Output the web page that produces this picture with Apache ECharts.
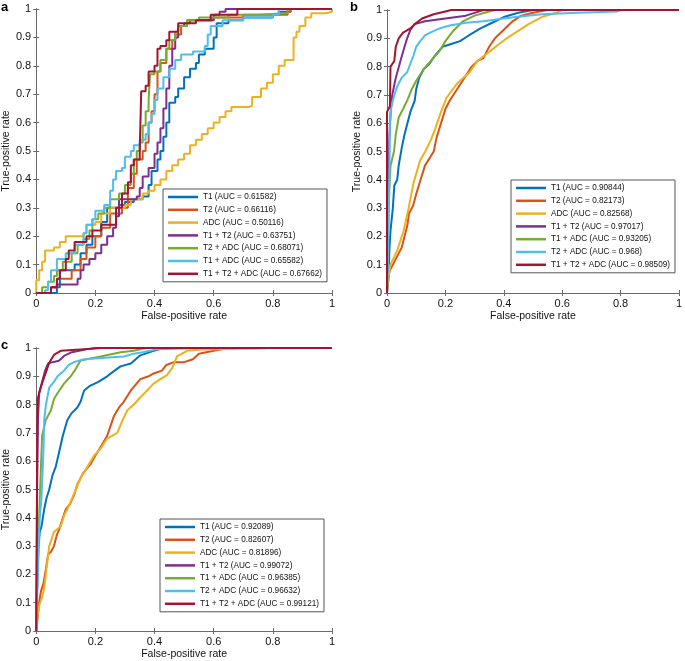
<!DOCTYPE html>
<html lang="en">
<head>
<meta charset="UTF-8">
<title>ROC curves</title>
<script src="https://cdn.jsdelivr.net/npm/echarts@6/dist/echarts.min.js"></script>
<style>
    html, body {margin: 0; padding: 0; background: #fff;}
    #main {width: 685px; height: 661px;}
</style>
</head>
<body>
<div id="main"></div>
<script>
    /* legend labels */
    var namesA = ['T1', 'T2', 'ADC', 'T1 + T2', 'T2 + ADC', 'T1 + ADC', 'T1 + T2 + ADC'];
    var namesBC = ['T1', 'T2', 'ADC', 'T1 + T2', 'T1 + ADC', 'T2 + ADC', 'T1 + T2 + ADC'];
    var aucA = ['0.61582', '0.66116', '0.50116', '0.63751', '0.68071', '0.65582', '0.67662'];
    var aucB = ['0.90844', '0.82173', '0.82568', '0.97017', '0.93205', '0.968', '0.98509'];
    var aucC = ['0.92089', '0.82607', '0.81896', '0.99072', '0.96385', '0.96632', '0.99121'];
    var xTicks = [0, 0.2, 0.4, 0.6, 0.8, 1];
    var yTicks = [0, 0.1, 0.2, 0.3, 0.4, 0.5, 0.6, 0.7, 0.8, 0.9, 1];

    /* panel a : [fpr, tpr] (step curves) */
    var aT1 = [[0,0],[0.07,0.02],[0.08,0.08],[0.13,0.1],[0.15,0.14],[0.17,0.17],[0.19,0.2],[0.22,0.25],[0.24,0.3],[0.28,0.31],[0.3,0.32],[0.33,0.33],[0.36,0.34],[0.38,0.38],[0.39,0.43],[0.41,0.47],[0.42,0.5],[0.43,0.55],[0.44,0.6],[0.45,0.67],[0.47,0.69],[0.48,0.72],[0.5,0.76],[0.52,0.79],[0.54,0.81],[0.55,0.84],[0.57,0.86],[0.6,0.9],[0.61,0.95],[0.65,0.96],[0.7,0.97],[0.8,0.98],[0.82,0.99],[0.86,1],[1,1]];
    var aT2 = [[0,0],[0.05,0.02],[0.07,0.05],[0.12,0.08],[0.15,0.12],[0.17,0.16],[0.2,0.2],[0.22,0.23],[0.25,0.28],[0.29,0.3],[0.31,0.37],[0.33,0.42],[0.34,0.47],[0.36,0.5],[0.37,0.53],[0.38,0.6],[0.39,0.64],[0.4,0.7],[0.41,0.78],[0.42,0.81],[0.44,0.86],[0.46,0.89],[0.47,0.91],[0.49,0.94],[0.51,0.96],[0.6,0.97],[0.7,0.98],[0.85,0.99],[0.86,1],[1,1]];
    var aADC = [[0,0],[0,0.045],[0.01,0.08],[0.02,0.11],[0.03,0.15],[0.06,0.16],[0.08,0.18],[0.1,0.2],[0.16,0.21],[0.17,0.24],[0.2,0.25],[0.22,0.28],[0.25,0.3],[0.3,0.31],[0.32,0.33],[0.36,0.35],[0.38,0.36],[0.4,0.38],[0.42,0.4],[0.44,0.43],[0.46,0.45],[0.48,0.47],[0.5,0.49],[0.52,0.52],[0.54,0.54],[0.56,0.56],[0.58,0.58],[0.6,0.6],[0.62,0.62],[0.64,0.64],[0.66,0.655],[0.72,0.66],[0.73,0.69],[0.76,0.72],[0.78,0.74],[0.8,0.77],[0.82,0.8],[0.84,0.82],[0.87,0.83],[0.87,0.9],[0.88,0.92],[0.89,0.94],[0.91,0.97],[0.93,0.985],[0.98,0.99],[1,1]];
    var aT1T2 = [[0,0],[0.05,0.02],[0.07,0.03],[0.14,0.05],[0.15,0.08],[0.16,0.1],[0.18,0.12],[0.2,0.14],[0.22,0.17],[0.24,0.2],[0.26,0.23],[0.27,0.27],[0.28,0.33],[0.34,0.34],[0.35,0.37],[0.36,0.41],[0.38,0.44],[0.4,0.49],[0.41,0.53],[0.42,0.58],[0.43,0.65],[0.44,0.72],[0.45,0.8],[0.46,0.86],[0.47,0.9],[0.48,0.94],[0.5,0.95],[0.52,0.96],[0.6,0.98],[0.62,0.99],[0.64,1],[1,1]];
    var aT2ADC = [[0,0],[0.02,0.02],[0.04,0.04],[0.06,0.06],[0.07,0.08],[0.09,0.11],[0.12,0.14],[0.14,0.17],[0.16,0.19],[0.18,0.22],[0.19,0.26],[0.21,0.28],[0.23,0.3],[0.25,0.33],[0.28,0.35],[0.3,0.38],[0.32,0.42],[0.33,0.47],[0.34,0.5],[0.35,0.53],[0.36,0.59],[0.37,0.64],[0.38,0.68],[0.385,0.77],[0.4,0.78],[0.42,0.82],[0.44,0.86],[0.45,0.89],[0.47,0.92],[0.48,0.94],[0.51,0.96],[0.55,0.97],[0.65,0.98],[0.75,0.985],[0.85,1],[1,1]];
    var aT1ADC = [[0,0],[0.03,0.01],[0.04,0.04],[0.05,0.08],[0.07,0.12],[0.1,0.14],[0.13,0.17],[0.16,0.21],[0.17,0.24],[0.19,0.26],[0.2,0.29],[0.23,0.31],[0.25,0.36],[0.26,0.4],[0.27,0.43],[0.29,0.44],[0.3,0.48],[0.32,0.5],[0.33,0.52],[0.35,0.54],[0.37,0.56],[0.38,0.6],[0.39,0.63],[0.4,0.68],[0.41,0.72],[0.43,0.76],[0.45,0.79],[0.47,0.82],[0.49,0.84],[0.53,0.85],[0.57,0.87],[0.58,0.91],[0.59,0.94],[0.63,0.96],[0.7,0.97],[0.8,0.98],[0.82,1],[1,1]];
    var aAll = [[0,0],[0.05,0.02],[0.07,0.05],[0.08,0.08],[0.1,0.12],[0.11,0.15],[0.13,0.18],[0.17,0.2],[0.19,0.22],[0.22,0.24],[0.27,0.25],[0.27,0.3],[0.29,0.35],[0.31,0.39],[0.32,0.45],[0.33,0.47],[0.35,0.5],[0.355,0.71],[0.37,0.73],[0.38,0.78],[0.4,0.8],[0.41,0.86],[0.42,0.87],[0.44,0.89],[0.45,0.92],[0.48,0.95],[0.54,0.96],[0.59,0.98],[0.68,1],[1,1]];

    /* panel b */
    var bT1 = [[0,0],[0.005,0.05],[0.008,0.15],[0.012,0.22],[0.02,0.3],[0.025,0.38],[0.035,0.4],[0.04,0.45],[0.05,0.51],[0.06,0.56],[0.07,0.6],[0.08,0.64],[0.095,0.68],[0.1,0.72],[0.11,0.76],[0.125,0.79],[0.145,0.81],[0.165,0.84],[0.19,0.87],[0.22,0.88],[0.25,0.89],[0.28,0.91],[0.32,0.935],[0.36,0.955],[0.4,0.975],[0.45,0.99],[0.5,1],[1,1]];
    var bT2 = [[0,0],[0.003,0.05],[0.01,0.08],[0.025,0.11],[0.04,0.14],[0.05,0.16],[0.06,0.2],[0.07,0.24],[0.075,0.28],[0.09,0.31],[0.1,0.35],[0.115,0.4],[0.13,0.45],[0.16,0.5],[0.17,0.55],[0.185,0.6],[0.2,0.65],[0.215,0.68],[0.24,0.72],[0.265,0.76],[0.29,0.8],[0.31,0.82],[0.33,0.83],[0.35,0.87],[0.37,0.9],[0.4,0.93],[0.43,0.96],[0.46,0.98],[0.5,0.99],[0.55,1],[1,1]];
    var bADC = [[0,0],[0.005,0.06],[0.012,0.1],[0.035,0.15],[0.057,0.22],[0.074,0.3],[0.091,0.39],[0.114,0.47],[0.131,0.5],[0.15,0.54],[0.165,0.58],[0.185,0.64],[0.204,0.69],[0.24,0.74],[0.283,0.78],[0.31,0.82],[0.328,0.835],[0.36,0.86],[0.384,0.88],[0.41,0.9],[0.44,0.92],[0.485,0.95],[0.53,0.975],[0.58,0.99],[0.6,1],[1,1]];
    var bT1T2 = [[0,0],[0.003,0.3],[0.008,0.55],[0.012,0.63],[0.018,0.7],[0.03,0.76],[0.046,0.82],[0.06,0.87],[0.069,0.9],[0.08,0.93],[0.095,0.95],[0.13,0.96],[0.2,0.97],[0.27,0.98],[0.3,0.99],[0.33,1],[1,1]];
    var bT1ADC = [[0,0],[0.003,0.2],[0.008,0.37],[0.012,0.45],[0.024,0.5],[0.03,0.56],[0.04,0.62],[0.055,0.65],[0.069,0.68],[0.085,0.72],[0.1,0.75],[0.125,0.79],[0.15,0.82],[0.18,0.855],[0.2,0.89],[0.226,0.925],[0.26,0.96],[0.3,0.98],[0.35,0.995],[0.37,1],[1,1]];
    var bT2ADC = [[0,0],[0.003,0.1],[0.008,0.4],[0.01,0.6],[0.015,0.66],[0.025,0.7],[0.035,0.73],[0.05,0.76],[0.069,0.78],[0.08,0.81],[0.091,0.84],[0.1,0.87],[0.114,0.89],[0.13,0.91],[0.148,0.92],[0.18,0.935],[0.215,0.945],[0.27,0.955],[0.33,0.96],[0.4,0.97],[0.44,0.975],[0.53,0.985],[0.65,0.99],[0.79,0.995],[0.8,1],[1,1]];
    var bAll = [[0,0],[0,0.64],[0.01,0.66],[0.012,0.8],[0.025,0.82],[0.03,0.87],[0.04,0.9],[0.055,0.92],[0.08,0.935],[0.095,0.95],[0.12,0.97],[0.16,0.985],[0.2,0.995],[0.22,1],[1,1]];

    /* panel c */
    var cT1 = [[0,0],[0.003,0.15],[0.008,0.3],[0.012,0.35],[0.018,0.37],[0.027,0.43],[0.035,0.47],[0.044,0.5],[0.055,0.55],[0.066,0.58],[0.077,0.63],[0.09,0.69],[0.105,0.745],[0.12,0.77],[0.139,0.79],[0.15,0.81],[0.162,0.85],[0.18,0.865],[0.21,0.88],[0.24,0.9],[0.265,0.92],[0.285,0.935],[0.32,0.945],[0.352,0.974],[0.397,0.99],[0.43,1],[1,1]];
    var cT2 = [[0,0],[0.005,0.05],[0.01,0.1],[0.016,0.14],[0.025,0.17],[0.033,0.22],[0.04,0.27],[0.05,0.28],[0.06,0.3],[0.07,0.34],[0.078,0.36],[0.09,0.4],[0.1,0.43],[0.115,0.45],[0.128,0.48],[0.14,0.52],[0.16,0.56],[0.184,0.59],[0.2,0.62],[0.218,0.65],[0.24,0.69],[0.263,0.76],[0.28,0.79],[0.296,0.81],[0.32,0.85],[0.352,0.89],[0.38,0.9],[0.397,0.91],[0.425,0.92],[0.44,0.94],[0.465,0.95],[0.5,0.95],[0.53,0.96],[0.55,0.98],[0.6,0.99],[0.65,1],[1,1]];
    var cADC = [[0,0],[0.004,0.05],[0.01,0.09],[0.02,0.12],[0.027,0.15],[0.035,0.22],[0.044,0.3],[0.06,0.35],[0.083,0.37],[0.095,0.41],[0.105,0.43],[0.122,0.47],[0.134,0.5],[0.15,0.54],[0.173,0.58],[0.196,0.62],[0.218,0.645],[0.24,0.68],[0.274,0.7],[0.29,0.74],[0.308,0.78],[0.33,0.8],[0.352,0.826],[0.375,0.85],[0.397,0.874],[0.42,0.89],[0.442,0.904],[0.46,0.93],[0.476,0.97],[0.51,0.99],[0.56,0.995],[0.76,0.998],[0.78,1],[1,1]];
    var cT1T2 = [[0,0],[0.003,0.5],[0.006,0.75],[0.01,0.84],[0.02,0.88],[0.03,0.92],[0.04,0.945],[0.055,0.95],[0.077,0.955],[0.094,0.972],[0.117,0.984],[0.173,0.996],[0.2,1],[1,1]];
    var cT1ADC = [[0,0],[0.004,0.2],[0.008,0.35],[0.015,0.55],[0.02,0.69],[0.032,0.745],[0.05,0.78],[0.06,0.82],[0.072,0.84],[0.094,0.874],[0.117,0.9],[0.13,0.92],[0.15,0.956],[0.218,0.97],[0.285,0.985],[0.33,0.99],[0.37,1],[1,1]];
    var cT2ADC = [[0,0],[0.003,0.1],[0.008,0.3],[0.012,0.4],[0.018,0.47],[0.021,0.55],[0.025,0.65],[0.027,0.745],[0.033,0.8],[0.044,0.86],[0.06,0.88],[0.072,0.9],[0.094,0.92],[0.11,0.94],[0.128,0.95],[0.162,0.96],[0.22,0.965],[0.296,0.97],[0.33,0.98],[0.364,0.986],[0.41,0.996],[0.5,0.998],[0.55,1],[1,1]];
    var cAll = [[0,0],[0.002,0.3],[0.003,0.6],[0.004,0.75],[0.005,0.82],[0.01,0.84],[0.015,0.86],[0.027,0.897],[0.035,0.92],[0.044,0.948],[0.061,0.977],[0.083,0.99],[0.162,0.996],[0.22,1],[1,1]];

    var colors = ['#0072BD', '#D95319', '#EDB120', '#7E2F8E', '#77AC30', '#4DBEEE', '#A2142F'];
    var font = '"Liberation Sans", Arial, Helvetica, sans-serif';
    var axisCol = '#6b6b6b';

    var panels = [
        {names: namesA, auc: aucA, data: [aT1, aT2, aADC, aT1T2, aT2ADC, aT1ADC, aAll], step: 'end',
         grid: {left: 36, top: 9, width: 296, height: 284}, legend: {left: 163, top: 189}},
        {names: namesBC, auc: aucB, data: [bT1, bT2, bADC, bT1T2, bT1ADC, bT2ADC, bAll], step: false,
         grid: {left: 387, top: 10, width: 296, height: 283}, legend: {left: 511, top: 180}},
        {names: namesBC, auc: aucC, data: [cT1, cT2, cADC, cT1T2, cT1ADC, cT2ADC, cAll], step: false,
         grid: {left: 35, top: 348, width: 297, height: 283}, legend: {left: 160, top: 519}}
    ];

    var grids = [], xAxes = [], yAxes = [], series = [], legends = [];
    panels.forEach(function (p, k) {
        grids.push(p.grid);
        var tick = {show: true, inside: true, length: 3, lineStyle: {color: axisCol}};
        var line = {show: true, lineStyle: {color: axisCol, width: 1}};
        xAxes.push({
            type: 'value', gridIndex: k, min: xTicks[0], max: xTicks[xTicks.length - 1], interval: 0.2,
            axisLine: line, axisTick: tick, splitLine: {show: false},
            axisLabel: {color: '#111', fontSize: 11, fontFamily: font, margin: 5},
            name: 'False-positive rate', nameLocation: 'middle', nameGap: 18,
            nameTextStyle: {color: '#111', fontSize: 10.5, fontFamily: font}
        });
        xAxes.push({
            type: 'value', gridIndex: k, position: 'top', min: 0, max: 1, interval: 0.2,
            axisLine: line, axisTick: tick, axisLabel: {show: false}, splitLine: {show: false}
        });
        yAxes.push({
            type: 'value', gridIndex: k, min: yTicks[0], max: yTicks[yTicks.length - 1], interval: 0.1,
            axisLine: line, axisTick: tick, splitLine: {show: false},
            axisLabel: {color: '#111', fontSize: 11, fontFamily: font, margin: 5},
            name: 'True-positive rate', nameLocation: 'middle', nameGap: 24,
            nameTextStyle: {color: '#111', fontSize: 10.5, fontFamily: font}
        });
        yAxes.push({
            type: 'value', gridIndex: k, position: 'right', min: 0, max: 1, interval: 0.1,
            axisLine: line, axisTick: tick, axisLabel: {show: false}, splitLine: {show: false}
        });
        var legendData = [];
        p.names.forEach(function (n, i) {
            var label = n + ' (AUC = ' + p.auc[i] + ')';
            legendData.push(label);
            series.push({
                name: label,
                type: 'line',
                xAxisIndex: 2 * k,
                yAxisIndex: 2 * k,
                step: p.step,
                showSymbol: false,
                symbol: 'none',
                silent: true,
                animation: false,
                lineStyle: {color: colors[i], width: 2},
                itemStyle: {color: colors[i]},
                data: p.data[i]
            });
        });
        legends.push({
            left: p.legend.left, top: p.legend.top, orient: 'vertical',
            data: legendData, icon: 'rect', itemWidth: 30, itemHeight: 2.5, itemGap: 2.8,
            padding: [3, 5, 3, 5], borderColor: '#555', borderWidth: 1, backgroundColor: '#fff',
            selectedMode: false,
            textStyle: {fontSize: 8.2, fontFamily: font, color: '#111', lineHeight: 10}
        });
    });

    var chart = echarts.init(document.getElementById('main'), null, {renderer: 'canvas'});
    chart.setOption({
        backgroundColor: '#fff',
        animation: false,
        grid: grids,
        xAxis: xAxes,
        yAxis: yAxes,
        legend: legends,
        series: series,
        graphic: [
            {type: 'text', left: 1, top: 1, style: {text: 'a', font: 'bold 13px ' + font, fill: '#000'}},
            {type: 'text', left: 350, top: 1, style: {text: 'b', font: 'bold 13px ' + font, fill: '#000'}},
            {type: 'text', left: 1, top: 339, style: {text: 'c', font: 'bold 13px ' + font, fill: '#000'}}
        ]
    });
</script>
</body>
</html>
